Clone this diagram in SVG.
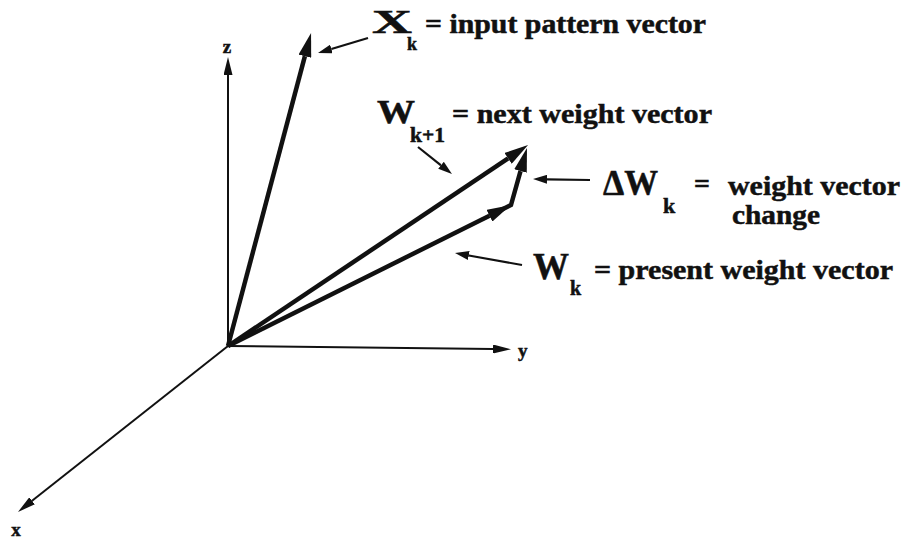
<svg xmlns="http://www.w3.org/2000/svg" width="907" height="541" viewBox="0 0 907 541">
<defs>
<style>
.t{font-family:"Liberation Serif","Times New Roman",Times,serif;font-weight:bold;fill:#111;stroke:#111;stroke-width:0.5}
.ax{stroke:#111;stroke-width:2;fill:none}
.vec{stroke:#111;stroke-width:4.5;fill:none}
.ptr{stroke:#111;stroke-width:2.2;fill:none}
</style>
<marker id="big" viewBox="0 -6.5 24 13" markerWidth="24" markerHeight="13" refX="0" refY="0" orient="auto" markerUnits="userSpaceOnUse"><path d="M0,-6.5 L24,0 L0,6.5 z" fill="#111"/></marker>
<marker id="axh" viewBox="0 -4.5 18 9" markerWidth="18" markerHeight="9" refX="0" refY="0" orient="auto" markerUnits="userSpaceOnUse"><path d="M0,-4.5 L18,0 L0,4.5 z" fill="#111"/></marker>
<marker id="sm" viewBox="0 -4.5 14 9" markerWidth="14" markerHeight="9" refX="0" refY="0" orient="auto" markerUnits="userSpaceOnUse"><path d="M0,-4.5 L14,0 L0,4.5 z" fill="#111"/></marker>
</defs>
<rect width="907" height="541" fill="#fff"/>
<g id="connectors">
<line class="ax" x1="228" y1="346" x2="228" y2="75" marker-end="url(#axh)"/>
<line class="ax" x1="228" y1="346" x2="493" y2="349" marker-end="url(#axh)"/>
<line class="ax" x1="228" y1="346" x2="32.1" y2="500.8" marker-end="url(#axh)"/>
<line class="vec" x1="228" y1="346" x2="304.9" y2="56.2" marker-end="url(#big)"/>
<line class="vec" x1="228" y1="346" x2="508.1" y2="158.4" marker-end="url(#big)"/>
<line class="vec" x1="228" y1="346" x2="489.5" y2="215.7" marker-end="url(#big)"/>
<path class="vec" d="M489.5,215.7 L511,205 L520.5,171.1" marker-end="url(#big)"/>
<line class="ptr" x1="368" y1="38" x2="331.4" y2="49" marker-end="url(#sm)"/>
<line class="ptr" x1="418" y1="147" x2="441" y2="165.3" marker-end="url(#sm)"/>
<line class="ptr" x1="590" y1="180" x2="547" y2="179.3" marker-end="url(#sm)"/>
<line class="ptr" x1="522" y1="265" x2="468.8" y2="255.5" marker-end="url(#sm)"/>
</g>
<g id="axis-z"><text class="t" x="227" y="53" font-size="19" text-anchor="middle">z</text></g>
<g id="axis-y"><text class="t" x="518" y="357" font-size="19">y</text></g>
<g id="axis-x"><text class="t" x="16" y="536" font-size="19" text-anchor="middle">x</text></g>
<g id="label-xk">
<text class="t" x="372" y="33" font-size="34" textLength="40" lengthAdjust="spacingAndGlyphs">X</text>
<text class="t" x="407" y="50" font-size="18">k</text>
<text class="t" x="425" y="33" font-size="28" textLength="281" lengthAdjust="spacingAndGlyphs">= input pattern vector</text>
</g>
<g id="label-wk1">
<text class="t" x="377" y="123" font-size="33" textLength="38" lengthAdjust="spacingAndGlyphs">W</text>
<text class="t" x="410" y="142" font-size="20" textLength="35" lengthAdjust="spacingAndGlyphs">k+1</text>
<text class="t" x="452" y="123" font-size="28" textLength="260" lengthAdjust="spacingAndGlyphs">= next weight vector</text>
</g>
<g id="label-dwk">
<text class="t" x="603" y="195" font-size="35" textLength="55" lengthAdjust="spacingAndGlyphs">ΔW</text>
<text class="t" x="663" y="213" font-size="22">k</text>
<text class="t" x="694" y="193" font-size="28">=</text>
<text class="t" x="728" y="195" font-size="28" textLength="172" lengthAdjust="spacingAndGlyphs">weight vector</text>
<text class="t" x="732" y="224" font-size="28" textLength="88" lengthAdjust="spacingAndGlyphs">change</text>
</g>
<g id="label-wk">
<text class="t" x="533" y="279" font-size="38" textLength="36" lengthAdjust="spacingAndGlyphs">W</text>
<text class="t" x="570" y="295" font-size="20">k</text>
<text class="t" x="594" y="279" font-size="28" textLength="299" lengthAdjust="spacingAndGlyphs">= present weight vector</text>
</g>
</svg>
